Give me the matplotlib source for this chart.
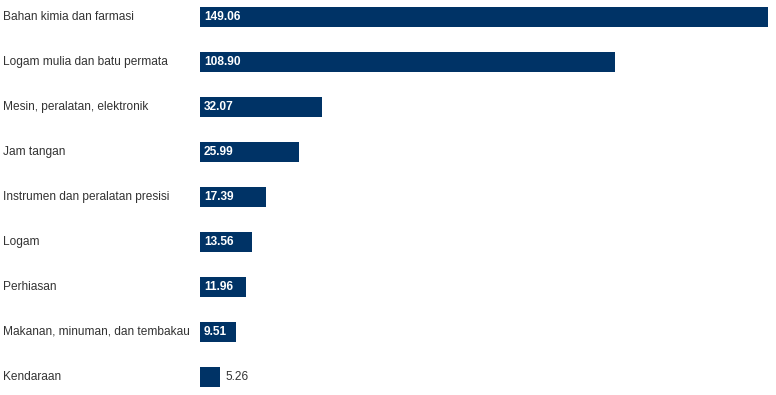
import matplotlib
matplotlib.use("Agg")
import matplotlib.pyplot as plt

kategori = ['Bahan kimia dan farmasi', 'Logam mulia dan batu permata',
            'Mesin, peralatan, elektronik', 'Jam tangan',
            'Instrumen dan peralatan presisi', 'Logam', 'Perhiasan',
            'Makanan, minuman, dan tembakau', 'Kendaraan']
nilai = [149.06, 108.90, 32.07, 25.99, 17.39, 13.56, 11.96, 9.51, 5.26]

plt.rcParams['font.family'] = ['Liberation Sans', 'DejaVu Sans']

W, H = 776, 395
fig = plt.figure(figsize=(W / 100, H / 100), dpi=100)
# axes: bars start at x=200px, max bar ends near 768px
ax = fig.add_axes([200 / W, 0, 567.7 / W, 1])
ax.set_xlim(0, max(nilai))
ax.set_ylim(8 + (H - 376.7) / 45, -16.5 / 45)
ax.axis('off')

warna = '#003366'
pos = list(range(len(kategori)))
ax.barh(pos, nilai, height=20 / 45, color=warna)

px = max(nilai) / 567.7  # data units per pixel
for i, (k, v) in enumerate(zip(kategori, nilai)):
    fig.text(3 / W, 1 - (17 + 45 * i) / H, k, fontsize=8.6, color='#333333',
             ha='left', va='center')
    if v / px > 30:
        ax.text(4 * px, i, f'{v:.2f}', color='white', fontsize=8.6,
                fontweight='bold', ha='left', va='center')
    else:
        ax.text(v + 5 * px, i, f'{v:.2f}', color='#333333', fontsize=8.6,
                ha='left', va='center')

fig.savefig('out.png', dpi=100)
